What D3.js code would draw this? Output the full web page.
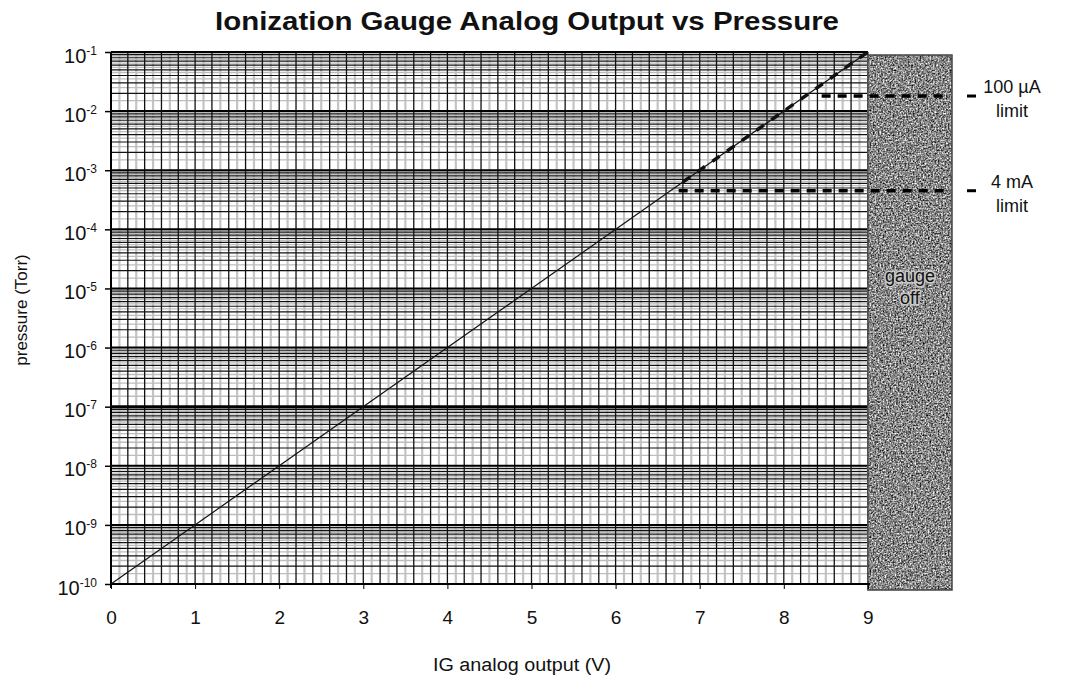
<!DOCTYPE html>
<head>
<meta charset="utf-8">
<title>Ionization Gauge Analog Output vs Pressure</title>
<style>
  body { margin: 0; background: #fff; }
  text { font-family: "Liberation Sans", Arial, sans-serif; fill: #111; }
</style>
</head>
<body>
<script src="https://cdnjs.cloudflare.com/ajax/libs/d3/7.8.5/d3.min.js"></script>
<script>
// chart values
let voltTicks = [0, 1, 2, 3, 4, 5, 6, 7, 8, 9];
let decadeExps = [-10, -9, -8, -7, -6, -5, -4, -3, -2, -1];
let outputV = [0, 9];
let pressureTorr = [1e-10, 1e-1];
let dashedFromV = 6.8;
let limitNames = ["100 µA", "4 mA"];
let limitPressure = [1.8e-2, 4.5e-4];
let limitFromV = [8.45, 6.75];
let offText = ["gauge", "off"];

let width = 1065, height = 690;
let svg = d3.select("body").append("svg")
  .attr("width", width)
  .attr("height", height);

let x = d3.scaleLinear().domain([0, 10]).range([111, 952]);
let y = d3.scaleLog().domain([1e-10, 1e-1]).range([584, 52]);

// noise filter for the "gauge off" band
let defs = svg.append("defs");
let f = defs.append("filter").attr("id", "grain")
  .attr("x", 0).attr("y", 0).attr("width", "100%").attr("height", "100%")
  .attr("color-interpolation-filters", "sRGB");
f.append("feTurbulence").attr("type", "fractalNoise")
  .attr("baseFrequency", 0.6).attr("numOctaves", 2).attr("seed", 4);
f.append("feColorMatrix").attr("type", "matrix")
  .attr("values", "1 0 0 0 0  1 0 0 0 0  1 0 0 0 0  0 0 0 0 1");
let ct = f.append("feComponentTransfer");
["feFuncR", "feFuncG", "feFuncB"].forEach(c =>
  ct.append(c).attr("type", "linear").attr("slope", 1.5).attr("intercept", -0.22));

// grid
let fineV = d3.range(0, 90).map(i => i / 10);
let grayV = fineV.filter((d, i) => i % 2 === 1);
let darkV = d3.range(0, 46).map(i => i / 5);

let grayP = [], darkP = [];
decadeExps.forEach(e => {
  if (e === -1) return;
  for (let m = 1.5; m < 10; m += 1) grayP.push(m * Math.pow(10, e));
  for (let m = 2; m < 10; m++) darkP.push(m * Math.pow(10, e));
});

let grid = svg.append("g");
grid.selectAll(".gv").data(grayV).join("line")
  .attr("x1", d => x(d)).attr("x2", d => x(d))
  .attr("y1", y(1e-1)).attr("y2", y(1e-10))
  .attr("stroke", "#c4c4c4").attr("stroke-width", 2.2);
grid.selectAll(".gh").data(grayP).join("line")
  .attr("x1", x(0)).attr("x2", x(9))
  .attr("y1", d => y(d)).attr("y2", d => y(d))
  .attr("stroke", "#bdbdbd").attr("stroke-width", 1.3);
grid.selectAll(".dv").data(darkV).join("line")
  .attr("x1", d => x(d)).attr("x2", d => x(d))
  .attr("y1", y(1e-1)).attr("y2", y(1e-10))
  .attr("stroke", "#111").attr("stroke-width", 1.3);
grid.selectAll(".dh").data(darkP).join("line")
  .attr("x1", x(0)).attr("x2", x(9))
  .attr("y1", d => y(d)).attr("y2", d => y(d))
  .attr("stroke", "#111").attr("stroke-width", 1.2);
grid.selectAll(".dd").data(decadeExps).join("line")
  .attr("x1", x(0)).attr("x2", x(9))
  .attr("y1", d => y(Math.pow(10, d))).attr("y2", d => y(Math.pow(10, d)))
  .attr("stroke", "#000").attr("stroke-width", d => d === -7 ? 3 : 2);

// gauge off band
svg.append("rect")
  .attr("x", x(9)).attr("y", y(1e-1) + 3)
  .attr("width", x(10) - x(9)).attr("height", y(1e-10) - y(1e-1) + 3)
  .attr("filter", "url(#grain)");
svg.append("rect")
  .attr("x", x(9)).attr("y", y(1e-1) + 3)
  .attr("width", x(10) - x(9)).attr("height", y(1e-10) - y(1e-1) + 3)
  .attr("fill", "none").attr("stroke", "#444").attr("stroke-width", 1.5);
svg.selectAll(".off").data(offText).join("text")
  .attr("x", x(9.5)).attr("y", (d, i) => y(1.3e-5) + i * 22)
  .attr("text-anchor", "middle").style("font-size", "18px")
  .style("fill", "#111").style("stroke", "#c8c8c8").style("stroke-width", 3)
  .style("paint-order", "stroke").text(d => d);

// axes lines
svg.append("line").attr("x1", x(0)).attr("x2", x(9) + 2)
  .attr("y1", y(1e-10)).attr("y2", y(1e-10))
  .attr("stroke", "#000").attr("stroke-width", 2);
svg.append("line").attr("x1", x(0)).attr("x2", x(0))
  .attr("y1", y(1e-1)).attr("y2", y(1e-10) + 4)
  .attr("stroke", "#000").attr("stroke-width", 2);

// response line
let line = d3.line().x(d => x(d[0])).y(d => y(d[1]));
let pts = outputV.map((v, i) => [v, pressureTorr[i]]);
svg.append("path").datum(pts).attr("d", line)
  .attr("fill", "none").attr("stroke", "#111").attr("stroke-width", 1.2);
let pAt = v => Math.pow(10, Math.log10(pressureTorr[0]) +
  (v - outputV[0]) / (outputV[1] - outputV[0]) * (Math.log10(pressureTorr[1]) - Math.log10(pressureTorr[0])));
svg.append("path").datum([[dashedFromV, pAt(dashedFromV)], pts[1]]).attr("d", line)
  .attr("fill", "none").attr("stroke", "#111").attr("stroke-width", 3.5)
  .attr("stroke-dasharray", "9,9");

// current limits
limitNames.forEach((name, i) => {
  let yy = y(limitPressure[i]);
  svg.append("line").attr("x1", x(limitFromV[i])).attr("x2", x(10) - 2)
    .attr("y1", yy).attr("y2", yy)
    .attr("stroke", "#000").attr("stroke-width", 3.5)
    .attr("stroke-dasharray", "9,7");
  svg.append("line").attr("x1", x(10) + 15).attr("x2", x(10) + 24)
    .attr("y1", yy).attr("y2", yy)
    .attr("stroke", "#000").attr("stroke-width", 3);
  svg.append("text").attr("x", 1012).attr("y", yy - 3)
    .attr("text-anchor", "middle").style("font-size", "18px").text(name);
  svg.append("text").attr("x", 1012).attr("y", yy + 21)
    .attr("text-anchor", "middle").style("font-size", "18px").text("limit");
});

// x axis labels
let xAxis = d3.axisBottom(x).tickValues(voltTicks).tickSize(5).tickPadding(22);
let gx = svg.append("g").attr("transform", `translate(0,${y(1e-10)})`).call(xAxis);
gx.select(".domain").remove();
gx.selectAll("line").attr("stroke", "#000");
gx.selectAll("text").style("font-size", "19px").style("font-family", null);

// y axis labels
let yAxis = d3.axisLeft(y).tickValues(decadeExps.map(e => Math.pow(10, e)))
  .tickSize(6).tickPadding(12).tickFormat("");
let gy = svg.append("g").attr("transform", `translate(${x(0)},0)`).call(yAxis);
gy.select(".domain").remove();
gy.selectAll("line").attr("stroke", "#000").attr("stroke-width", 1.5);
gy.selectAll(".tick text").each(function (d) {
  let t = d3.select(this).attr("dy", "0.5em").style("font-size", "20px")
    .style("font-family", null).attr("x", -14);
  t.append("tspan").text("10");
  t.append("tspan").attr("dy", "-0.65em").style("font-size", "12px")
    .text("-" + Math.round(-Math.log10(d)));
});

// titles
svg.append("text").attr("x", 527).attr("y", 30).attr("text-anchor", "middle")
  .attr("textLength", 624).attr("lengthAdjust", "spacingAndGlyphs")
  .style("font-size", "25px").style("font-weight", "bold")
  .text("Ionization Gauge Analog Output vs Pressure");
svg.append("text").attr("x", 522).attr("y", 671).attr("text-anchor", "middle")
  .attr("textLength", 178).attr("lengthAdjust", "spacingAndGlyphs")
  .style("font-size", "18px").text("IG analog output (V)");
svg.append("text").attr("transform", "translate(27,310) rotate(-90)")
  .attr("text-anchor", "middle").style("font-size", "17px").text("pressure (Torr)");
</script>
</body>
